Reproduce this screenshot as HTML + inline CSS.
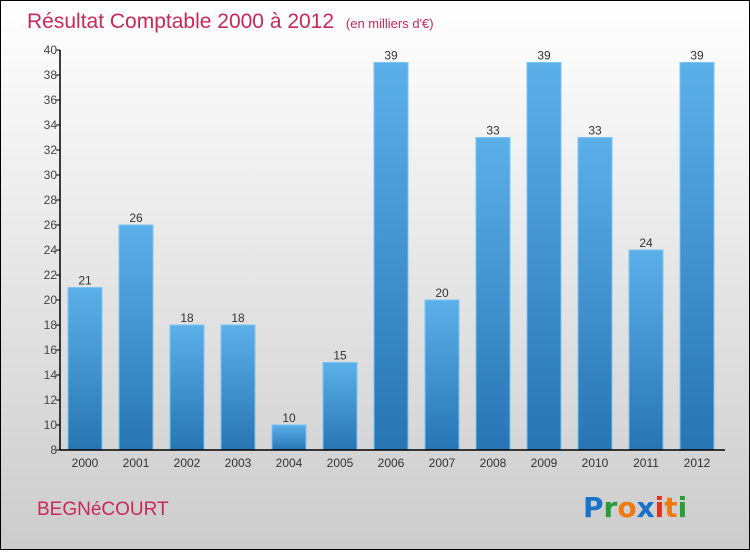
<!DOCTYPE html>
<html><head><meta charset="utf-8"><style>
html,body{margin:0;padding:0}
body{width:750px;height:550px;overflow:hidden;font-family:"Liberation Sans",sans-serif}
#wrap{position:relative;width:748px;height:548px;border:1px solid #000;background:linear-gradient(#ffffff,#cccccc)}
</style></head><body>
<div id="wrap">
<svg id="chart" width="748" height="548" xmlns="http://www.w3.org/2000/svg">
<defs>
<linearGradient id="bg" x1="0" y1="0" x2="0" y2="1"><stop offset="0" stop-color="#5cb0ea"/><stop offset="1" stop-color="#2775b3"/></linearGradient>
</defs>
<text x="26" y="27" font-size="21" fill="#c8285a">Résultat Comptable 2000 à 2012 <tspan font-size="13" dx="6">(en milliers d'€)</tspan></text>
<text x="36" y="514" font-size="19" fill="#c8285a">BEGNéCOURT</text>
<g font-size="28" font-family="DejaVu Sans, sans-serif" font-weight="bold">
<text x="582" y="516"><tspan fill="#1a73c9">P</tspan><tspan fill="#2a9a3a">r</tspan><tspan fill="#f07a10">o</tspan><tspan fill="#1a73c9">x</tspan><tspan fill="#e03020">i</tspan><tspan fill="#f07a10">t</tspan><tspan fill="#2a9a3a">i</tspan></text>
</g>
<g id="plot"></g>
</svg>
</div>
<script>
const years=["2000","2001","2002","2003","2004","2005","2006","2007","2008","2009","2010","2011","2012"];
const values=[21,26,18,18,10,15,39,20,33,39,33,24,39];
const yTicks=[8,10,12,14,16,18,20,22,24,26,28,30,32,34,36,38,40];
const ns="http://www.w3.org/2000/svg";
const g=document.getElementById('plot');
const x0=59,x1=722,yTop=49,yBot=449,vMin=8,vMax=40;
const y=v=>yBot-(v-vMin)/(vMax-vMin)*(yBot-yTop);
const step=(x1-x0)/years.length;
const xc=i=>x0+step*(i+0.5)-0.5;
function mk(t,a){const e=document.createElementNS(ns,t);for(const k in a)e.setAttribute(k,a[k]);g.appendChild(e);return e;}
values.forEach((v,i)=>{
 const r=mk('rect',{x:xc(i)-17,y:y(v),width:34,height:yBot-y(v),fill:'url(#bg)',stroke:'#7cc4f4','stroke-width':1});
 
 
 const t=mk('text',{x:xc(i),y:y(v)-3,'font-size':12,'text-anchor':'middle',fill:'#333'});
 t.textContent=v;
 
 
 const xl=mk('text',{x:xc(i),y:466,'font-size':12,'text-anchor':'middle',fill:'#333'});
 xl.textContent=years[i];
 
 
});
yTicks.forEach(v=>{
 mk('line',{x1:x0-4,x2:x0,y1:y(v),y2:y(v),stroke:'#000'});
 const t=mk('text',{x:x0-3,y:y(v)+4,'font-size':12,'text-anchor':'end',fill:'#444'});
 t.textContent=v;
 
 
});
const ya=mk('line',{x1:x0,x2:x0,y1:yTop,y2:yBot,stroke:'#000','stroke-width':1.5});


const xa=mk('line',{x1:x0,x2:x1+2,y1:yBot,y2:yBot,stroke:'#000','stroke-width':1.5});


</script>
</body></html>
